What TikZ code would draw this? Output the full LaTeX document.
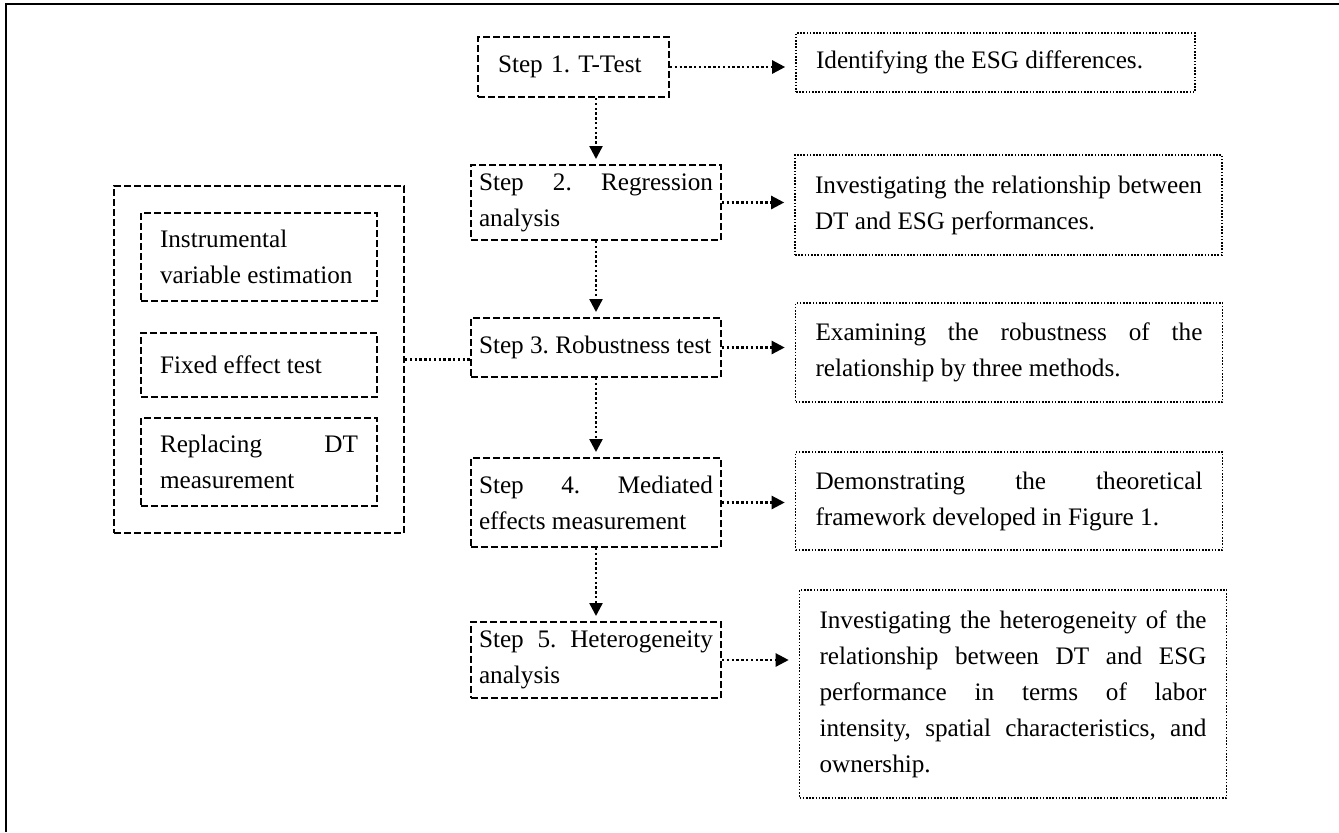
\documentclass[tikz,border=0pt]{standalone}
\usepackage{fontspec}
\setmainfont{Liberation Serif}
\usetikzlibrary{arrows.meta,fit}
\hyphenpenalty=10000
\exhyphenpenalty=10000
\frenchspacing

\begin{document}
\begin{tikzpicture}[
  x=0.5pt, y=-0.5pt,
  >={Triangle[length=6.5pt,width=6.5pt]},
  dashbox/.style={draw, line width=1pt, dash pattern=on 3.5pt off 1.5pt},
  stepbox/.style={dashbox, text width=117pt, align=justify, inner xsep=4pt, inner ysep=4pt},
  testbox/.style={dashbox, text width=99pt, align=justify, inner xsep=9.5pt},
  notebox/.style={draw, line width=0.8pt, dash pattern=on 0.8pt off 0.8pt, text width=193.5pt, align=justify, inner xsep=10pt},
  link/.style={->, line width=1.2pt, dash pattern=on 1.2pt off 1.2pt, shorten >=2.5pt},
  every node/.style={font=\fontsize{12.6}{18}\selectfont}
]
  \useasboundingbox (0,0) rectangle (1339,832);
  \draw[line width=1.3pt] (1339,4) -- (6,4) -- (6,832);

  \node[stepbox, text width=75.5pt, inner xsep=10pt, align=left, minimum height=30pt] (s1) at (573.5,67) {Step 1. T-Test};
  \node[stepbox, minimum height=37.5pt] (s2) at (596,202.5) {Step 2. Regression analysis};
  \node[stepbox, minimum height=29.5pt] (s3) at (596,347.5) {Step 3. Robustness test};
  \node[stepbox, minimum height=44.5pt] (s4) at (596,502.5) {Step 4. Mediated effects measurement};
  \node[stepbox, minimum height=38pt] (s5) at (596,660) {Step 5. Heterogeneity analysis};

  \node[notebox, text width=179.5pt, minimum height=29.5pt] (n1) at (995.5,62.5) {Identifying the ESG differences.};
  \node[notebox, minimum height=50pt] (n2) at (1008.5,205) {Investigating the relationship between DT and ESG performances.};
  \node[notebox, minimum height=49.5pt] (n3) at (1009,352.5) {Examining the robustness of the relationship by three methods.};
  \node[notebox, minimum height=49pt] (n4) at (1009,501) {Demonstrating the theoretical framework developed in Figure 1.};
  \node[notebox, minimum height=104pt] (n5) at (1013,694) {Investigating the heterogeneity of the\linebreak relationship between DT and ESG\linebreak performance in terms of labor\linebreak intensity, spatial characteristics, and ownership.};

  \node[testbox, minimum height=44pt] (iv) at (259,257) {Instrumental variable estimation};
  \node[testbox, minimum height=32pt] (fe) at (259,365) {Fixed effect test};
  \node[testbox, minimum height=44pt] (rm) at (259,462) {Replacing DT measurement};
  \node[dashbox, fit=(iv)(fe)(rm), inner sep=13pt] (checks) {};

  \foreach \a/\b in {s1/s2,s2/s3,s3/s4,s4/s5}
    \draw[link] (\a.south -| \b.north) -- (\b.north);
  \foreach \i in {1,...,5}
    \draw[link, shorten >=5pt] (s\i.east) -- (s\i.east -| n\i.west);

  \draw[line width=1.2pt, dash pattern=on 1.2pt off 1.2pt] (checks.east) -- (checks.east -| s3.west);
\end{tikzpicture}
\end{document}
